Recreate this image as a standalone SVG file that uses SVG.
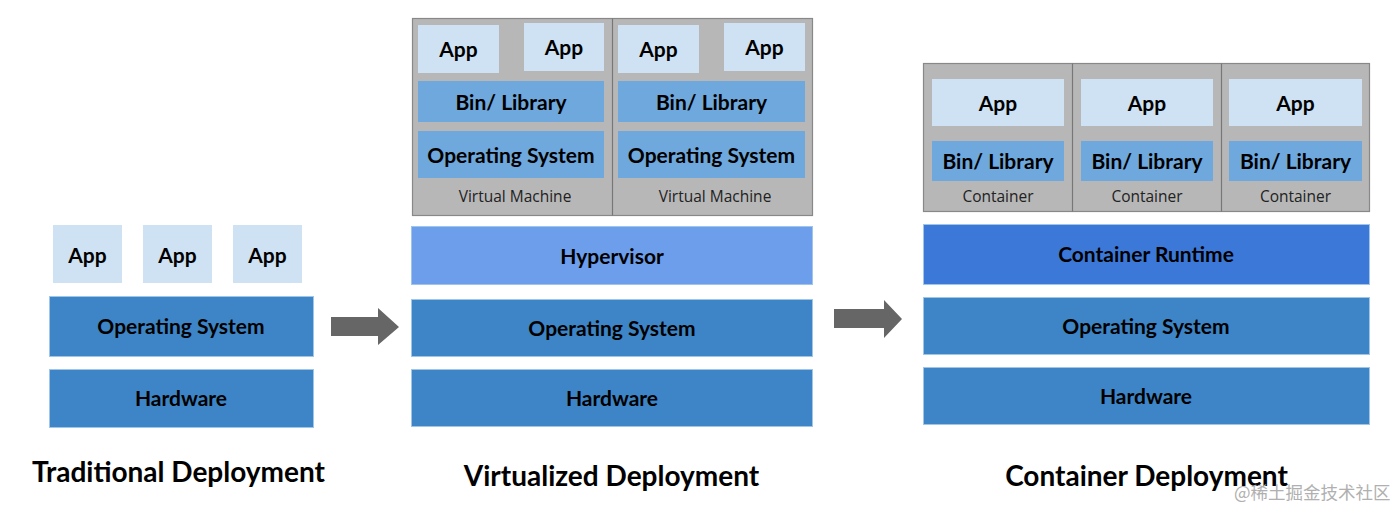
<svg xmlns="http://www.w3.org/2000/svg" width="1400" height="516" viewBox="0 0 1400 516">
<style>
.app{fill:#cfe2f3;}
.blue{fill:#3d85c6;stroke:#9fc5e8;stroke-width:1;}
.lib{fill:#6fa8dc;}
.hyp{fill:#6d9eeb;stroke:#9fc5e8;stroke-width:1;}
.rt{fill:#3c78d8;stroke:#9fc5e8;stroke-width:1;}
.gray{fill:#b7b7b7;stroke:#888888;stroke-width:1.2;}
.div{stroke:#777777;stroke-width:1.2;}
text{font-family:Lato,"Liberation Sans",sans-serif;font-weight:bold;fill:#000;text-anchor:middle;dominant-baseline:central;}
.t20{font-size:21px;}
.lbl{font-size:15.5px;font-weight:normal;font-family:"Open Sans","Liberation Sans",sans-serif;fill:#222;}
.title{font-size:28px;dominant-baseline:alphabetic;}
.arrow{fill:#666666;}
.wm{font-family:"Noto Sans CJK SC","Noto Sans",sans-serif;font-weight:normal;font-size:17.5px;fill:#b0b0b0;text-anchor:start;}
</style>

<g id="traditional">
  <g id="t-app1"><rect class="app" x="53" y="225" width="69" height="58"/><text class="t20" x="87.5" y="254.5">App</text></g>
  <g id="t-app2"><rect class="app" x="143" y="225" width="69" height="58"/><text class="t20" x="177.5" y="254.5">App</text></g>
  <g id="t-app3"><rect class="app" x="233" y="225" width="69" height="58"/><text class="t20" x="267.5" y="254.5">App</text></g>
  <g id="t-os"><rect class="blue" x="49.5" y="296.5" width="264" height="60"/><text class="t20" x="181" y="325.5">Operating System</text></g>
  <g id="t-hw"><rect class="blue" x="49.5" y="369.5" width="264" height="58"/><text class="t20" x="181" y="397.5">Hardware</text></g>
  <text class="title" x="178.5" y="482">Traditional Deployment</text>
</g>

<g id="virtualized">
  <g id="vm-frame">
    <rect class="gray" x="412.5" y="18.5" width="400" height="197"/>
    <line class="div" x1="612.5" y1="18.5" x2="612.5" y2="215.5"/>
  </g>
  <g id="vm1">
    <rect class="app" x="418" y="25" width="81" height="48"/><text class="t20" x="458.5" y="48.5">App</text>
    <rect class="app" x="524" y="23" width="80" height="48"/><text class="t20" x="564" y="46.5">App</text>
    <rect class="lib" x="418" y="81" width="186" height="41"/><text class="t20" x="511" y="101.5">Bin/ Library</text>
    <rect class="lib" x="418" y="131" width="186" height="47"/><text class="t20" x="511" y="154.5">Operating System</text>
    <text class="lbl" x="515" y="195.5">Virtual Machine</text>
  </g>
  <g id="vm2">
    <rect class="app" x="618" y="25" width="81" height="48"/><text class="t20" x="658.5" y="48.5">App</text>
    <rect class="app" x="724" y="23" width="81" height="48"/><text class="t20" x="764.5" y="46.5">App</text>
    <rect class="lib" x="618" y="81" width="187" height="41"/><text class="t20" x="711.5" y="101.5">Bin/ Library</text>
    <rect class="lib" x="618" y="131" width="187" height="47"/><text class="t20" x="711.5" y="154.5">Operating System</text>
    <text class="lbl" x="715" y="195.5">Virtual Machine</text>
  </g>
  <g id="v-hyp"><rect class="hyp" x="411.5" y="226.5" width="401" height="58"/><text class="t20" x="612" y="255.5">Hypervisor</text></g>
  <g id="v-os"><rect class="blue" x="411.5" y="299.5" width="401" height="57"/><text class="t20" x="612" y="327.5">Operating System</text></g>
  <g id="v-hw"><rect class="blue" x="411.5" y="369.5" width="401" height="57"/><text class="t20" x="612" y="397.5">Hardware</text></g>
  <text class="title" x="611.5" y="486">Virtualized Deployment</text>
</g>

<g id="container">
  <g id="c-frame">
    <rect class="gray" x="923.5" y="63.5" width="446" height="148"/>
    <line class="div" x1="1072.5" y1="63.5" x2="1072.5" y2="211.5"/>
    <line class="div" x1="1221.5" y1="63.5" x2="1221.5" y2="211.5"/>
  </g>
  <g id="c1">
    <rect class="app" x="932" y="79" width="132" height="47"/><text class="t20" x="998" y="102.5">App</text>
    <rect class="lib" x="932" y="141" width="132" height="40"/><text class="t20" x="998" y="160.5">Bin/ Library</text>
    <text class="lbl" x="998" y="195.5">Container</text>
  </g>
  <g id="c2">
    <rect class="app" x="1081" y="79" width="132" height="47"/><text class="t20" x="1147" y="102.5">App</text>
    <rect class="lib" x="1081" y="141" width="132" height="40"/><text class="t20" x="1147" y="160.5">Bin/ Library</text>
    <text class="lbl" x="1147" y="195.5">Container</text>
  </g>
  <g id="c3">
    <rect class="app" x="1229" y="79" width="133" height="47"/><text class="t20" x="1295.5" y="102.5">App</text>
    <rect class="lib" x="1229" y="141" width="133" height="40"/><text class="t20" x="1295.5" y="160.5">Bin/ Library</text>
    <text class="lbl" x="1295.5" y="195.5">Container</text>
  </g>
  <g id="c-rt"><rect class="rt" x="923.5" y="224.5" width="446" height="60"/><text class="t20" x="1146" y="253.5">Container Runtime</text></g>
  <g id="c-os"><rect class="blue" x="923.5" y="297.5" width="446" height="57"/><text class="t20" x="1146" y="325.5">Operating System</text></g>
  <g id="c-hw"><rect class="blue" x="923.5" y="367.5" width="446" height="57"/><text class="t20" x="1146" y="395.5">Hardware</text></g>
  <text class="title" x="1146.5" y="486">Container Deployment</text>
</g>

<g id="connectors">
  <polygon class="arrow" points="331,317 378,317 378,308 399,327 378,345 378,336 331,336"/>
  <polygon class="arrow" points="834,309 884,309 884,300 902,319 884,338 884,328 834,328"/>
</g>

<text class="wm" x="1234" y="491">@稀土掘金技术社区</text>
</svg>
